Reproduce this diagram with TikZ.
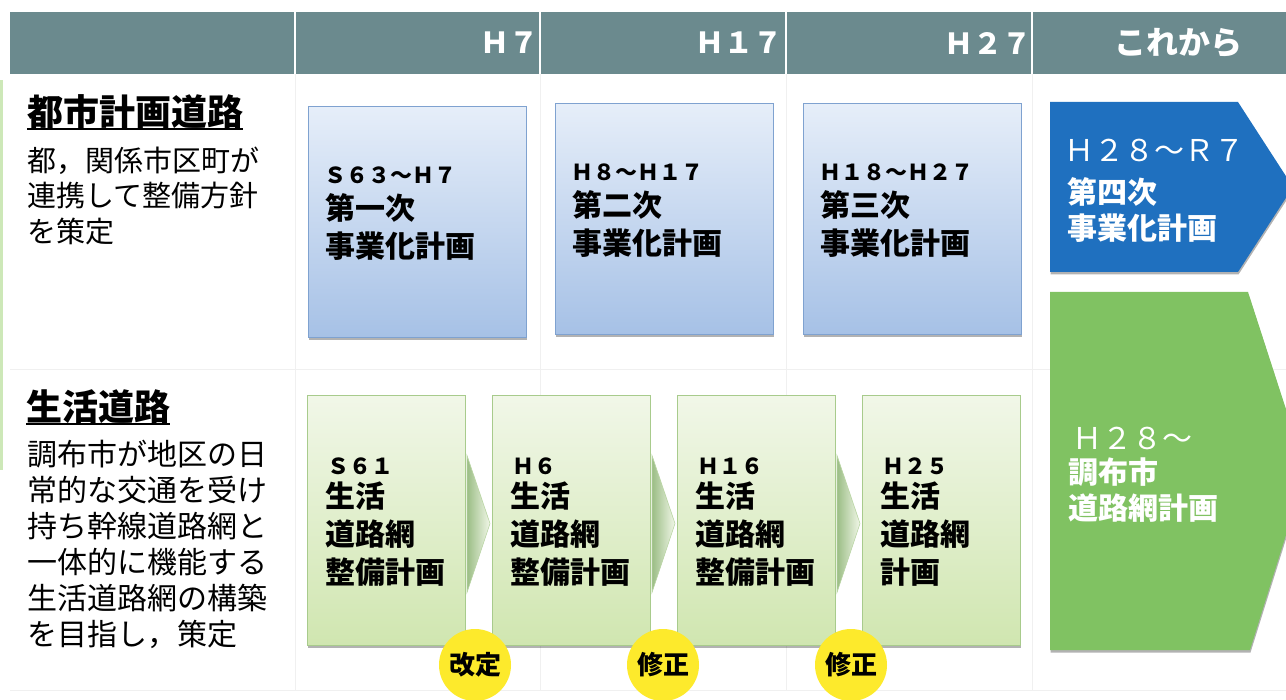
\documentclass[tikz,border=0pt]{standalone}
\usepackage{fontspec}
\setmainfont{Noto Sans CJK JP}
\usetikzlibrary{shadows,calc}
\definecolor{hdr}{HTML}{6B8A8E}
\definecolor{bluetop}{HTML}{E6EEF9}
\definecolor{bluebot}{HTML}{A6C1E6}
\definecolor{bluebd}{HTML}{7FA2D0}
\definecolor{greentop}{HTML}{F1F7E8}
\definecolor{greenbot}{HTML}{D0E6B0}
\definecolor{greenbd}{HTML}{A8CB8C}
\definecolor{darkblue}{HTML}{1F70BF}
\definecolor{brightgreen}{HTML}{80C262}
\definecolor{marker}{HTML}{FDEA2C}
\definecolor{gridc}{HTML}{F0F0F0}
\definecolor{edgegreen}{HTML}{CDE8B8}
\begin{document}
\begin{tikzpicture}[x=1pt,y=-1pt,
  shad/.style={drop shadow={shadow xshift=0.5pt,shadow yshift=-2.5pt,opacity=0.3,fill=black}},
  bluebox/.style={draw=bluebd,line width=1pt,top color=bluetop,bottom color=bluebot,
    minimum width=218pt,minimum height=231pt,inner sep=0pt,anchor=north west,shad},
  greenbox/.style={draw=greenbd,line width=1pt,top color=greentop,bottom color=greenbot,
    minimum width=158pt,minimum height=250pt,inner sep=0pt,anchor=north west,shad},
  chev/.style={draw=greenbd!80,line width=0.6pt,left color=greenbot!90!green!80!black!95,right color=greentop},
  hdrtxt/.style={text=white,font=\bfseries\fontsize{29}{34}\selectfont,inner sep=0pt},
  title/.style={font=\bfseries\fontsize{36}{40}\selectfont,inner sep=0pt,anchor=north west},
  desc/.style={font=\fontsize{29}{35.5}\selectfont,align=left,inner sep=0pt,anchor=north west},
  numtxt/.style={font=\bfseries\fontsize{22}{26}\selectfont,inner sep=0pt,anchor=west},
  boxtxt/.style={font=\bfseries\fontsize{30}{38}\selectfont,align=left,inner sep=0pt,anchor=north west},
  wtxt/.style={text=white,font=\bfseries\fontsize{30}{36}\selectfont,align=left,inner sep=0pt,anchor=north west},
  wnum/.style={text=white,font=\fontsize{30}{36}\selectfont,inner sep=0pt,anchor=west},
  stamp/.style={circle,fill=marker,minimum size=72pt,inner sep=0pt,font=\bfseries\fontsize{26}{30}\selectfont}
]
\useasboundingbox (0,0) rectangle (1286,700);
\clip (0,0) rectangle (1286,700);
\fill[white] (0,0) rectangle (1286,700);

% faint grid
\draw[gridc,line width=1pt] (295,74) -- (295,690) (540,74) -- (540,690)
  (786,74) -- (786,690) (1032,74) -- (1032,690) (10,370) -- (1286,370) (10,690) -- (1286,690);
\fill[edgegreen] (0,80) rectangle (3,470);

% header band
\fill[hdr] (10,12) rectangle (1290,74);
\draw[white,line width=1.5pt] (295,12) -- (295,74) (540,12) -- (540,74) (786,12) -- (786,74) (1032,12) -- (1032,74);
\node[hdrtxt,anchor=east] (hh7) at (539,43) {Ｈ７};
\node[hdrtxt,anchor=east] (hh17) at (783,43) {Ｈ１７};
\node[hdrtxt,anchor=east] (hh27) at (1032,43) {Ｈ２７};
\node[hdrtxt,font=\bfseries\fontsize{32}{36}\selectfont] (hnow) at (1178,43) {これから};

% left column
\node[title] (t1) at (27,94) {都市計画道路};
\draw[line width=2pt] (t1.south west) -- (t1.south east);
\node[desc] (d1) at (27,146.5) {都，関係市区町が\\連携して整備方針\\を策定};
\node[title] (t2) at (26,389) {生活道路};
\draw[line width=2pt] (t2.south west) -- (t2.south east);
\node[desc,font=\fontsize{30}{36}\selectfont] (d2) at (27,440) {調布市が地区の日\\常的な交通を受け\\持ち幹線道路網と\\一体的に機能する\\生活道路網の構築\\を目指し，策定};

% blue boxes
\node[bluebox] (b1) at (308,106) {};
\node[bluebox] (b2) at (555,103) {};
\node[bluebox] (b3) at (803,103) {};
\node[numtxt] (b1n) at ($(b1.north west)+(16,69)$) {Ｓ６３～Ｈ７};
\node[boxtxt] (b1t) at ($(b1.north west)+(17,87)$) {第一次\\事業化計画};
\node[numtxt] (b2n) at ($(b2.north west)+(16,69)$) {Ｈ８～Ｈ１７};
\node[boxtxt] (b2t) at ($(b2.north west)+(17,87)$) {第二次\\事業化計画};
\node[numtxt] (b3n) at ($(b3.north west)+(16,69)$) {Ｈ１８～Ｈ２７};
\node[boxtxt] (b3t) at ($(b3.north west)+(17,87)$) {第三次\\事業化計画};

% blue arrow
\fill[darkblue,shad]
  (1050,102) -- (1238,102) -- (1293,187) -- (1238,272) -- (1050,272) -- cycle;
\node[wnum] (bn4) at (1064,150) {Ｈ２８～Ｒ７};
\node[wtxt] (bt4) at (1067,177) {第四次\\事業化計画};

% green arrow
\fill[brightgreen,shad]
  (1050,292) -- (1248,292) -- (1306,471) -- (1250,650) -- (1050,650) -- cycle;
\node[wnum] (gn5) at (1072,438) {Ｈ２８～};
\node[wtxt] (gt5) at (1068,458) {調布市\\道路網計画};

% green boxes
\node[greenbox] (g1) at (307,395) {};
\node[greenbox] (g2) at (492,395) {};
\node[greenbox] (g3) at (677,395) {};
\node[greenbox] (g4) at (862,395) {};
\foreach \a/\b in {g1/g2,g2/g3,g3/g4}{
  \draw[chev] ($(\a.east)+(1,-65)$) -- ($(\b.west)+(-2,3)$) -- ($(\a.east)+(1,72)$) -- cycle;
}
\node[numtxt] (g1n) at ($(g1.north west)+(20,71)$) {Ｓ６１};
\node[boxtxt] (g1t) at ($(g1.north west)+(18,87)$) {生活\\道路網\\整備計画};
\node[numtxt] (g2n) at ($(g2.north west)+(20,71)$) {Ｈ６};
\node[boxtxt] (g2t) at ($(g2.north west)+(18,87)$) {生活\\道路網\\整備計画};
\node[numtxt] (g3n) at ($(g3.north west)+(20,71)$) {Ｈ１６};
\node[boxtxt] (g3t) at ($(g3.north west)+(18,87)$) {生活\\道路網\\整備計画};
\node[numtxt] (g4n) at ($(g4.north west)+(20,71)$) {Ｈ２５};
\node[boxtxt] (g4t) at ($(g4.north west)+(18,87)$) {生活\\道路網\\計画};

% stamps
\node[stamp] (s1) at (475,665) {改定};
\node[stamp] (s2) at (663,665) {修正};
\node[stamp] (s3) at (851,665) {修正};
\end{tikzpicture}
\end{document}
